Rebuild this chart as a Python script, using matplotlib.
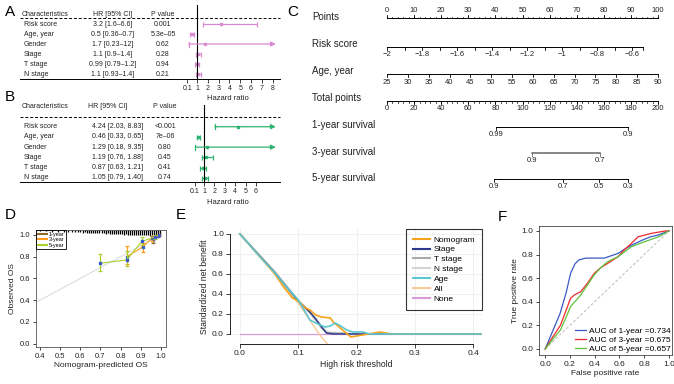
import matplotlib.pyplot as plt
import numpy as np

plt.rcParams['font.family'] = ['Liberation Sans', 'DejaVu Sans']
plt.rcParams['axes.facecolor'] = 'none'
plt.rcParams['axes.linewidth'] = 0.6

# ---------------- A / B forest tables ----------------
rows = ['Risk score', 'Age, year', 'Gender', 'Stage', 'T stage', 'N stage']

a_hr = [3.2, 0.5, 1.7, 1.1, 0.99, 1.1]
a_lo = [1.6, 0.36, 0.23, 0.9, 0.79, 0.93]
a_hi = [6.6, 0.7, 12, 1.4, 1.2, 1.4]
a_ci_txt = ['3.2 [1.6\u20136.6]', '0.5 [0.36\u20130.7]', '1.7 [0.23\u201312]',
            '1.1 [0.9\u20131.4]', '0.99 [0.79\u20131.2]', '1.1 [0.93\u20131.4]']
a_p = ['0.001', '5.3e\u201305', '0.62', '0.28', '0.94', '0.21']
a_ticks = [0.1, 1, 2, 3, 4, 5, 6, 7, 8]

b_hr = [4.24, 0.46, 1.29, 1.19, 0.87, 1.05]
b_lo = [2.03, 0.33, 0.18, 0.76, 0.63, 0.79]
b_hi = [8.83, 0.65, 9.35, 1.88, 1.21, 1.40]
b_ci_txt = ['4.24 [2.03, 8.83]', '0.46 [0.33, 0.65]', '1.29 [0.18, 9.35]',
            '1.19 [0.76, 1.88]', '0.87 [0.63, 1.21]', '1.05 [0.79, 1.40]']
b_p = ['<0.001', '7e\u201306', '0.80', '0.45', '0.41', '0.74']
b_ticks = [0.1, 1, 2, 3, 4, 5, 6]

# ---------------- C nomogram ----------------
pts_major = list(range(0, 101, 10))
pts_minor = list(range(0, 101, 2))
risk_ticks = [-2.0, -1.9, -1.8, -1.7, -1.6, -1.5, -1.4, -1.3, -1.2, -1.1, -1.0,
              -0.9, -0.8, -0.7, -0.6, -0.54]
risk_labels = [-2, -1.8, -1.6, -1.4, -1.2, -1, -0.8, -0.6]
risk_pts_per_unit = 64.6
age_ticks = [25, 30, 35, 40, 45, 50, 55, 60, 65, 70, 75, 80, 85, 90]
age_pts_per_year = 100 / 65
total_major = list(range(0, 201, 20))
total_minor = list(range(0, 201, 4))
surv1_total = [80.4, 177.9]
surv1_lab = ['0.99', '0.9']
surv3_total = [107, 157]
surv3_lab = ['0.9', '0.7']
surv5_total = [79, 130, 156.5, 178]
surv5_lab = ['0.9', '0.7', '0.5', '0.3']

# ---------------- D calibration ----------------
cal1_x = [0.96, 0.985]
cal1_y = [0.95, 0.99]
cal1_lo = [0.93, 0.98]
cal1_hi = [0.97, 1.0]
cal3_x = [0.83, 0.91, 0.955, 0.99]
cal3_y = [0.80, 0.89, 0.97, 1.0]
cal3_lo = [0.73, 0.84, 0.94, 0.99]
cal3_hi = [0.90, 0.93, 0.99, 1.01]
cal5_x = [0.70, 0.83, 0.905, 0.97]
cal5_y = [0.74, 0.77, 0.94, 0.98]
cal5_lo = [0.67, 0.71, 0.91, 0.96]
cal5_hi = [0.82, 0.85, 0.98, 1.0]
rug_x = [0.40, 0.43, 0.46, 0.49, 0.52, 0.54, 0.56, 0.575, 0.59, 0.60, 0.615, 0.625,
         0.635, 0.645, 0.655, 0.665, 0.675, 0.685, 0.695, 0.705, 0.715, 0.725, 0.735,
         0.745, 0.755, 0.765, 0.775, 0.785, 0.795, 0.805, 0.815, 0.825, 0.835, 0.845,
         0.855, 0.865, 0.875, 0.885, 0.895, 0.905, 0.915, 0.925, 0.935, 0.945, 0.955,
         0.965, 0.975, 0.985, 0.995]
rug_h = [0.012, 0.012, 0.015, 0.015, 0.018, 0.015, 0.02, 0.018, 0.022, 0.02, 0.025,
         0.022, 0.025, 0.028, 0.025, 0.03, 0.028, 0.03, 0.032, 0.03, 0.032, 0.035, 0.032,
         0.035, 0.038, 0.035, 0.038, 0.04, 0.038, 0.04, 0.042, 0.04, 0.042, 0.045, 0.042,
         0.045, 0.048, 0.045, 0.048, 0.05, 0.048, 0.05, 0.05, 0.052, 0.05, 0.055, 0.052,
         0.055, 0.055]

# ---------------- E decision curves ----------------
nomo_t = [0, 0.03, 0.06, 0.075, 0.09, 0.10, 0.11, 0.12, 0.13, 0.14, 0.155, 0.16, 0.17,
          0.18, 0.19, 0.20, 0.22, 0.24, 0.26, 0.30, 0.415]
nomo_nb = [1.0, 0.80, 0.60, 0.47, 0.36, 0.33, 0.27, 0.24, 0.19, 0.17, 0.16, 0.12, 0.07,
           0.02, -0.03, -0.02, 0.0, 0.02, 0.0, 0.0, 0.0]
stage_t = [0, 0.06, 0.10, 0.12, 0.13, 0.14, 0.148, 0.16, 0.2, 0.3, 0.415]
stage_nb = [1.0, 0.61, 0.33, 0.22, 0.15, 0.07, 0.01, 0.0, 0.0, 0.0, 0.0]
tst_t = [0, 0.06, 0.10, 0.11, 0.12, 0.13, 0.14, 0.15, 0.2, 0.3, 0.415]
tst_nb = [1.0, 0.62, 0.33, 0.27, 0.21, 0.14, 0.06, 0.01, 0.0, 0.0, 0.0]
nst_t = [0, 0.06, 0.10, 0.11, 0.12, 0.13, 0.14, 0.15, 0.2, 0.3, 0.415]
nst_nb = [1.0, 0.62, 0.34, 0.28, 0.22, 0.16, 0.08, 0.02, 0.0, 0.0, 0.0]
age_t = [0, 0.03, 0.06, 0.08, 0.10, 0.11, 0.12, 0.13, 0.146, 0.155, 0.163, 0.17, 0.183,
         0.194, 0.21, 0.223, 0.3, 0.415]
age_nb = [1.0, 0.80, 0.61, 0.47, 0.34, 0.24, 0.14, 0.11, 0.07, 0.08, 0.11, 0.09, 0.04,
          0.02, 0.02, 0.0, 0.0, 0.0]
all_t = [0, 0.05, 0.10, 0.137, 0.15]
all_nb = [1.0, 0.67, 0.31, -0.01, -0.10]
none_t = [0, 0.415]
none_nb = [0, 0]

# ---------------- F ROC ----------------
roc1_fpr = [0, 0.06, 0.12, 0.17, 0.205, 0.24, 0.273, 0.328, 0.40, 0.478, 0.59, 0.64,
            0.70, 0.78, 0.85, 0.915, 0.96, 1.0]
roc1_tpr = [0, 0.15, 0.30, 0.48, 0.64, 0.72, 0.755, 0.77, 0.77, 0.77, 0.81, 0.845,
            0.88, 0.92, 0.95, 0.966, 0.985, 1.0]
roc3_fpr = [0, 0.06, 0.123, 0.17, 0.205, 0.24, 0.287, 0.34, 0.396, 0.45, 0.505, 0.587,
            0.64, 0.697, 0.75, 0.86, 0.97, 1.0]
roc3_tpr = [0, 0.10, 0.20, 0.33, 0.43, 0.46, 0.485, 0.555, 0.64, 0.69, 0.725, 0.78,
            0.84, 0.895, 0.95, 0.98, 1.0, 1.0]
roc5_fpr = [0, 0.06, 0.123, 0.17, 0.205, 0.24, 0.287, 0.34, 0.396, 0.45, 0.505, 0.587,
            0.697, 0.806, 0.915, 1.0]
roc5_tpr = [0, 0.08, 0.16, 0.27, 0.36, 0.40, 0.457, 0.54, 0.627, 0.69, 0.74, 0.78,
            0.867, 0.91, 0.95, 1.0]
auc_labels = ['AUC of 1-year =0.734', 'AUC of 3-year =0.675', 'AUC of 5-year =0.657']

W, H = 674, 384
fig = plt.figure(figsize=(W / 100, H / 100), dpi=100)


def box(x0, y0, x1, y1):
    # axes placed by pixel box (top-left origin)
    return fig.add_axes([x0 / W, 1 - y1 / H, (x1 - x0) / W, (y1 - y0) / H])


ov = box(0, 0, W, H)
ov.set_xlim(0, W)
ov.set_ylim(H, 0)
ov.axis('off')

txtc = '#222222'
for lab, x, y in [('A', 10, 12), ('B', 10, 97), ('C', 293, 12), ('D', 10, 215),
                  ('E', 181, 215), ('F', 502, 217)]:
    ov.text(x, y, lab, fontsize=11, ha='center', va='center', color='black')


def forest(ax, hr, lo, hi, color, end, ticks):
    for i in range(len(hr)):
        if hi[i] > end:
            ax.annotate('', xy=(end, i), xytext=(lo[i], i),
                        arrowprops=dict(arrowstyle='-|>', color=color, lw=0.9,
                                        mutation_scale=7, shrinkA=0, shrinkB=0))
            ax.plot([lo[i]] * 2, [i - 0.25, i + 0.25], color=color, lw=0.9)
        else:
            ax.errorbar(hr[i], i, xerr=[[hr[i] - lo[i]], [hi[i] - hr[i]]], color=color,
                        lw=0.9, capsize=1.8, capthick=0.9, fmt='none')
        ax.plot(hr[i], i, marker='s', ms=2.0, color=color)
    ax.axvline(1, color='black', lw=0.8)
    for s in ax.spines.values():
        s.set_visible(False)
    ax.set_yticks([])
    ax.set_xticks(ticks)
    ax.set_xticklabels([str(t) for t in ticks])
    ax.tick_params(axis='x', length=3, width=0.6, pad=1.5, labelsize=5, colors=txtc)


def table(y_head, y_rows, hr_head_x, hr_x, p_x, ci_txt, p_txt, y_dash, y_bot):
    ov.text(22, y_head, 'Characteristics', fontsize=5, va='center', color=txtc)
    ov.text(hr_head_x, y_head, 'HR [95% CI]', fontsize=5, va='center', ha='center', color=txtc)
    ov.text(p_x, y_head, 'P value', fontsize=5, va='center', ha='center', color=txtc)
    for i, name in enumerate(rows):
        y = y_rows[i]
        ov.text(24, y, name, fontsize=5, va='center', color=txtc)
        ov.text(hr_x, y, ci_txt[i], fontsize=5, va='center', ha='center', color=txtc)
        ov.text(p_x, y, p_txt[i], fontsize=5, va='center', ha='center', color=txtc)
    ov.plot([20, 280], [y_dash, y_dash], color='black', lw=0.7, ls=(0, (3, 2)))
    ov.plot([20, 280], [y_bot, y_bot], color='black', lw=0.7)


# panel A
axA = box(183, 5, 280, 79)
axA.set_xlim(1 - 14 / 10.8, 1 + 83 / 10.8)
axA.set_ylim(5.5, -1.9)
forest(axA, a_hr, a_lo, a_hi, '#DA8AD0', 8.3, a_ticks)
table(14, [24 + 10 * i for i in range(6)], 113, 113, 163, a_ci_txt, a_p, 17.5, 79)
ov.text(228, 99, 'Hazard ratio', fontsize=5.5, ha='center', va='center', color=txtc)

# panel B
axB = box(190, 105, 280, 182)
axB.set_xlim(1 - 14 / 10.4, 1 + 76 / 10.4)
axB.set_ylim(5.42, -2.13)
forest(axB, b_hr, b_lo, b_hi, '#2DB36F', 7.9, b_ticks)
table(107, [126.7 + 10.2 * i for i in range(6)], 108, 118, 165, b_ci_txt, b_p, 117, 182)
ov.text(228, 203, 'Hazard ratio', fontsize=5.5, ha='center', va='center', color=txtc)

# panel C nomogram
axC = box(300, 0, 674, 200)
axC.set_xlim(-87 / 2.71, 287 / 2.71)
axC.set_ylim(200, 0)
axC.axis('off')


def scale(y, tick_pts, lab_pts, labels, up=False, minor=None, color='black', lw=0.7):
    d = -1 if up else 1
    axC.plot([min(tick_pts), max(tick_pts)], [y, y], color=color, lw=lw)
    for p in tick_pts:
        axC.plot([p, p], [y, y + 3 * d], color=color, lw=0.6)
    if minor is not None:
        for p in minor:
            axC.plot([p, p], [y, y + 1.5 * d], color=color, lw=0.5)
    for p, s in zip(lab_pts, labels):
        axC.text(p, y + 8 * d, s, fontsize=5.5, ha='center', va='center', color=txtc)


row_names = ['Points', 'Risk score', 'Age, year', 'Total points',
             '1-year survival', '3-year survival', '5-year survival']
row_y = [17, 44, 71, 98, 125, 152, 178]
for name, y in zip(row_names, row_y):
    axC.text(-75 / 2.71, y, name, fontsize=7, va='center', ha='left', color=txtc)

scale(18, pts_major, pts_major, [str(p) for p in pts_major], up=True, minor=pts_minor)
scale(47, [(r + 2) * risk_pts_per_unit for r in risk_ticks],
      [(r + 2) * risk_pts_per_unit for r in risk_labels],
      [('%g' % r).replace('-', '\u2212') for r in risk_labels])
scale(74, [(a - 25) * age_pts_per_year for a in age_ticks],
      [(a - 25) * age_pts_per_year for a in age_ticks], [str(a) for a in age_ticks])
scale(101, [t / 2 for t in total_major], [t / 2 for t in total_major],
      [str(t) for t in total_major], minor=[t / 2 for t in total_minor])
scale(127, [t / 2 for t in surv1_total], [t / 2 for t in surv1_total], surv1_lab)
scale(153, [t / 2 for t in surv3_total], [t / 2 for t in surv3_total], surv3_lab,
      color='#666666', lw=1.1)
scale(179, [t / 2 for t in surv5_total], [t / 2 for t in surv5_total], surv5_lab)

# panel D calibration
axD = box(36, 230, 166, 347)
axD.set_xlim(0.38, 1.025)
axD.set_ylim(-0.03, 1.045)
axD.plot([0.38, 1.0], [0.38, 1.0], color='#DDDDDD', lw=0.8)
axD.vlines(rug_x, [1.045 - h for h in rug_h], 1.045, color='black', lw=0.9)
for xs, ys, lo, hi, c, lab in [(cal1_x, cal1_y, cal1_lo, cal1_hi, '#8B6A2A', '1-year'),
                               (cal3_x, cal3_y, cal3_lo, cal3_hi, '#FF9A1A', '3-year'),
                               (cal5_x, cal5_y, cal5_lo, cal5_hi, '#A8D12E', '5-year')]:
    axD.plot(xs, ys, color=c, lw=0.8, label=lab)
    axD.errorbar(xs, ys, yerr=[np.subtract(ys, lo), np.subtract(hi, ys)], fmt='none',
                 ecolor=c, elinewidth=0.9, capsize=1.5, capthick=0.9)
    axD.plot(xs, ys, ls='none', marker='s', ms=1.8, color='#3A5BC7')
legD = axD.legend(loc='upper left', fontsize=4, frameon=True, fancybox=False,
                  edgecolor='black', handlelength=1.6, borderpad=0.3, labelspacing=0.1,
                  handletextpad=0.4, borderaxespad=0, framealpha=1)
legD.get_frame().set_linewidth(0.6)
for h in legD.get_lines():
    h.set_linewidth(1.5)
axD.set_xticks([0.4, 0.5, 0.6, 0.7, 0.8, 0.9, 1.0])
axD.set_xticklabels(['0.4', '0.5', '0.6', '0.7', '0.8', '0.9', '1.0'])
axD.set_yticks([0.0, 0.2, 0.4, 0.6, 0.8, 1.0])
axD.set_yticklabels(['0.0', '0.2', '0.4', '0.6', '0.8', '1.0'])
axD.tick_params(length=2.5, width=0.6, pad=1.5, labelsize=5.5, colors=txtc)
for s in axD.spines.values():
    s.set_color('#555555')
axD.set_xlabel('Nomogram-predicted OS', fontsize=6, labelpad=2, color=txtc)
axD.set_ylabel('Observed OS', fontsize=6, labelpad=3, color=txtc)

# panel E decision curve
axE = box(230, 229, 482, 344)
axE.set_xlim(-0.017, 0.415)
axE.set_ylim(-0.1, 1.05)
axE.grid(color='#EEEEEE', lw=0.6)
axE.set_axisbelow(True)
axE.plot(none_t, none_nb, color='#D89AD8', lw=0.9, label='None')
axE.plot(all_t, all_nb, color='#FBC995', lw=1.0, label='All')
axE.plot(nst_t, nst_nb, color='#D3D3D3', lw=1.2, label='N stage')
axE.plot(tst_t, tst_nb, color='#A9A9A9', lw=1.2, label='T stage')
axE.plot(stage_t, stage_nb, color='#2B3A8C', lw=1.0, label='Stage')
axE.plot(nomo_t, nomo_nb, color='#F7A21B', lw=1.2, label='Nomogram')
axE.plot(age_t, age_nb, color='#5CC7CF', lw=1.2, label='Age')
hs, ls = axE.get_legend_handles_labels()
order = ['Nomogram', 'Stage', 'T stage', 'N stage', 'Age', 'All', 'None']
hmap = dict(zip(ls, hs))
legE = axE.legend([hmap[k] for k in order], order, loc='upper right',
                  bbox_to_anchor=(482 / W, 1 - 229 / H), bbox_transform=fig.transFigure,
                  fontsize=6, frameon=True, fancybox=False, edgecolor='black',
                  handlelength=2.0, borderpad=0.8, labelspacing=0.25, handletextpad=0.5,
                  borderaxespad=0)
legE.get_frame().set_linewidth(0.8)
for h in legE.get_lines():
    h.set_linewidth(1.5)
for s in ['top', 'right']:
    axE.spines[s].set_visible(False)
axE.spines['left'].set_bounds(0, 1)
axE.spines['bottom'].set_bounds(0, 0.4)
axE.set_xticks([0.0, 0.1, 0.2, 0.3, 0.4])
axE.set_xticklabels(['0.0', '0.1', '0.2', '0.3', '0.4'])
axE.set_yticks([0.0, 0.2, 0.4, 0.6, 0.8, 1.0])
axE.set_yticklabels(['0.0', '0.2', '0.4', '0.6', '0.8', '1.0'])
axE.tick_params(length=3, width=0.6, pad=1.5, labelsize=6, colors=txtc)
axE.set_xlabel('High risk threshold', fontsize=6.2, labelpad=2, color=txtc)
axE.set_ylabel('Standardized net benefit', fontsize=6.2, labelpad=2, color=txtc)

# panel F ROC
axF = box(539, 226, 672, 355)
axF.set_xlim(-0.05, 1.025)
axF.set_ylim(-0.051, 1.042)
axF.plot([0, 1], [0, 1], ls=(0, (3, 2)), color='#BBBBBB', lw=0.7)
axF.plot(roc1_fpr, roc1_tpr, color='#3A5BC7', lw=0.9, label=auc_labels[0])
axF.plot(roc3_fpr, roc3_tpr, color='#F0282D', lw=0.9, label=auc_labels[1])
axF.plot(roc5_fpr, roc5_tpr, color='#5EC13D', lw=0.9, label=auc_labels[2])
axF.legend(loc='lower right', bbox_to_anchor=(671 / W, 1 - 353 / H),
           bbox_transform=fig.transFigure, fontsize=6, frameon=False,
           handlelength=1.3, labelspacing=0.15, handletextpad=0.4, borderaxespad=0,
           borderpad=0)
axF.set_xticks([0.0, 0.2, 0.4, 0.6, 0.8, 1.0])
axF.set_xticklabels(['0.0', '0.2', '0.4', '0.6', '0.8', '1.0'])
axF.set_yticks([0.0, 0.2, 0.4, 0.6, 0.8, 1.0])
axF.set_yticklabels(['0.0', '0.2', '0.4', '0.6', '0.8', '1.0'])
axF.tick_params(length=2.5, width=0.6, pad=1.5, labelsize=6, colors=txtc)
for s in axF.spines.values():
    s.set_color('#444444')
axF.set_xlabel('False positive rate', fontsize=6, labelpad=1.5, color=txtc)
axF.set_ylabel('True positive rate', fontsize=6, labelpad=2, color=txtc)

fig.savefig('out.png', dpi=100)
